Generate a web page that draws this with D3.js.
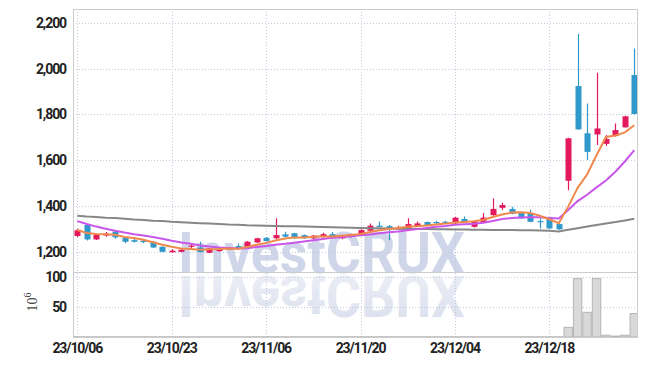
<!DOCTYPE html>
<html><head><meta charset="utf-8">
<script src="https://cdn.jsdelivr.net/npm/d3@7"></script>
<style>body{margin:0;background:#fff}svg{display:block}</style>
</head><body><svg id="c" width="647" height="366"></svg>
<script>
const dates = ["23/10/06","23/10/10","23/10/11","23/10/12","23/10/13","23/10/16","23/10/17","23/10/18","23/10/19","23/10/20",
"23/10/23","23/10/24","23/10/25","23/10/26","23/10/27","23/10/30","23/10/31","23/11/01","23/11/02","23/11/03",
"23/11/06","23/11/07","23/11/08","23/11/09","23/11/10","23/11/13","23/11/14","23/11/15","23/11/16","23/11/17",
"23/11/20","23/11/21","23/11/22","23/11/23","23/11/24","23/11/27","23/11/28","23/11/29","23/11/30","23/12/01",
"23/12/04","23/12/05","23/12/06","23/12/07","23/12/08","23/12/11","23/12/12","23/12/13","23/12/14","23/12/15",
"23/12/18","23/12/19","23/12/20","23/12/21","23/12/22","23/12/26","23/12/27","23/12/28","24/01/02","24/01/03"];
const open  = [1270,1318,1255,1272,1289,1262,1252,1249,1245,1223, 1199,1201,1224,1220,1197,1204,1212,1226,1223,1242,
               1262,1260,1277,1282,1274,1260,1267,1278,1260,1267, 1271,1293,1315,1313,1299,1303,1313,1331,1331,1332,
               1325,1344,1310,1330,1361,1393,1388,1373,1369,1335, 1344,1322,1511,1924,1718,1713,1672,1706,1744,1972];
const high  = [1302,1321,1280,1287,1291,1264,1265,1256,1247,1224, 1212,1214,1238,1245,1218,1218,1223,1237,1248,1262,
               1266,1347,1289,1284,1277,1274,1284,1287,1276,1280, 1299,1325,1333,1318,1315,1347,1333,1333,1336,1336,
               1353,1355,1336,1370,1434,1415,1398,1377,1385,1347, 1346,1325,1698,2151,1848,1982,1710,1761,1794,2088];
const low   = [1266,1250,1253,1267,1258,1238,1242,1238,1218,1199, 1197,1199,1216,1198,1195,1202,1210,1212,1220,1240,
               1246,1255,1264,1258,1258,1256,1262,1268,1256,1264, 1269,1290,1311,1252,1297,1300,1311,1316,1318,1322,
               1322,1328,1307,1328,1358,1383,1365,1345,1330,1303, 1301,1297,1470,1733,1601,1667,1662,1704,1742,1800];
const close = [1295,1255,1277,1280,1264,1245,1245,1244,1220,1201, 1206,1210,1228,1200,1216,1213,1220,1214,1245,1260,
               1248,1274,1267,1260,1260,1271,1278,1270,1274,1278, 1296,1315,1312,1303,1306,1322,1325,1318,1327,1325,
               1350,1330,1332,1350,1388,1405,1367,1347,1332,1330, 1303,1299,1696,1735,1637,1739,1693,1732,1792,1802];
const ma5   = [1296,1283,1279,1278,1275,1266,1261,1254,1243,1232, 1223,1216,1213,1210,1212,1213,1215,1214,1222,1232,
               1240,1250,1259,1264,1264,1267,1268,1268,1271,1274, 1279,1287,1295,1301,1305,1310,1313,1316,1320,1324,
               1329,1331,1334,1340,1353,1364,1372,1374,1370,1358, 1343,1326,1398,1480,1538,1622,1702,1708,1722,1753];
const ma10  = [1335,1322,1311,1302,1293,1285,1278,1272,1266,1258, 1249,1242,1236,1229,1224,1220,1218,1216,1217,1222,
               1226,1232,1236,1241,1246,1251,1257,1262,1266,1269, 1273,1277,1282,1286,1290,1295,1300,1305,1310,1314,
               1319,1321,1323,1328,1335,1344,1348,1351,1352,1352, 1349,1346,1383,1422,1450,1482,1512,1550,1595,1645];
const ma60  = [1358,1355,1353,1350,1348,1345,1342,1340,1337,1335, 1332,1330,1328,1326,1324,1322,1320,1319,1317,1316,
               1315,1314,1313,1312,1311,1310,1309,1308,1307,1306, 1305,1304,1304,1303,1302,1301,1300,1300,1299,1299,
               1298,1298,1297,1297,1296,1296,1296,1295,1295,1294, 1293,1290,1297,1304,1311,1318,1325,1331,1338,1345];
const volume = [0.4,0.4,0.4,0.4,0.4,0.4,0.4,0.4,0.4,0.4, 0.4,0.4,0.4,0.4,0.4,0.4,0.4,0.4,0.4,0.4,
                0.4,0.4,0.4,0.4,0.4,0.4,0.4,0.4,0.4,0.4, 0.4,0.4,0.4,0.4,0.4,0.4,0.4,0.4,0.4,0.4,
                0.4,0.4,0.4,0.4,0.4,0.4,0.4,0.4,0.4,0.4, 0.4,0.4,16,97,41,97,3,1.5,3,39];
const priceTicks = [1200,1400,1600,1800,2000,2200];
const volTicks = [50,100];
const dateTicks = ["23/10/06","23/10/23","23/11/06","23/11/20","23/12/04","23/12/18"];

const L=73, R=637.5, T=9, M=272, B=337;
const svg = d3.select("#c");
const x = d3.scaleBand().domain(dates).range([72.6, 639]);
const y = d3.scaleLinear().domain([1113, 2260]).range([M, T]);
const yv = d3.scaleLinear().domain([0, 108]).range([B, M]);
const cx = d => x(d) + x.bandwidth()/2;
const UP = "#e3185d", DOWN = "#3098ca";

const defs = svg.append("defs");
defs.append("clipPath").attr("id","clipAll").append("rect").attr("x",L).attr("y",T).attr("width",R-L).attr("height",B-T);
const g = defs.append("linearGradient").attr("id","refl").attr("x1",0).attr("y1",0).attr("x2",0).attr("y2",1);
g.append("stop").attr("offset","0%").attr("stop-color","#d9deed");
g.append("stop").attr("offset","100%").attr("stop-color","#eff1f7");
defs.append("text").attr("id","wmText").attr("x",178).attr("y",0).attr("textLength",287).attr("lengthAdjust","spacingAndGlyphs")
  .attr("font-family","Roboto").attr("font-weight",700).attr("font-size",58).text("InvestCRUX");

// watermark (text + reflection)
svg.append("use").attr("href","#wmText").attr("transform","translate(0,273)").attr("fill","#d0d6e9");
svg.append("use").attr("href","#wmText").attr("transform","translate(0,276) scale(1,-1)").attr("fill","url(#refl)");

// grid
const grid = svg.append("g").attr("stroke","#c3cade").attr("stroke-dasharray","1,2").attr("stroke-width",1);
grid.selectAll(".hy").data(priceTicks).join("line").attr("x1",L).attr("x2",R).attr("y1",d=>Math.round(y(d))+0.5).attr("y2",d=>Math.round(y(d))+0.5);
grid.selectAll(".hv").data(volTicks).join("line").attr("x1",L).attr("x2",R).attr("y1",d=>Math.round(yv(d))+0.5).attr("y2",d=>Math.round(yv(d))+0.5);
grid.selectAll(".vx").data(dateTicks).join("line").attr("y1",T).attr("y2",B).attr("x1",d=>Math.round(cx(d))+0.5).attr("x2",d=>Math.round(cx(d))+0.5);

const plot = svg.append("g").attr("clip-path","url(#clipAll)");
// volume
const idx = d3.range(dates.length);
plot.selectAll(".vb").data(idx).join("rect")
  .attr("x",i=>x(dates[i])+0.5).attr("width",x.bandwidth()-1)
  .attr("y",i=>yv(volume[i])).attr("height",i=>B-yv(volume[i]))
  .attr("fill","#d9d9d9").attr("stroke","#b5b5b5").attr("stroke-width",1);

// candles
const cg = plot.append("g");
cg.selectAll(".w").data(idx).join("line")
  .attr("x1",i=>Math.round(cx(dates[i]))+0.5).attr("x2",i=>Math.round(cx(dates[i]))+0.5)
  .attr("y1",i=>y(high[i])).attr("y2",i=>y(low[i]))
  .attr("stroke",i=>close[i]>=open[i]?UP:DOWN).attr("stroke-width",1.2);
cg.selectAll(".b").data(idx).join("rect")
  .attr("x",i=>Math.round(cx(dates[i]))-2.5).attr("width",6)
  .attr("y",i=>y(Math.max(open[i],close[i])))
  .attr("height",i=>Math.max(1.2, Math.abs(y(open[i])-y(close[i]))))
  .attr("fill",i=>close[i]>=open[i]?UP:DOWN);

// moving averages
const line = arr => d3.line().x((d,i)=>cx(dates[i])).y(d=>y(d))(arr);
plot.append("path").attr("d",line(ma60)).attr("fill","none").attr("stroke","#878787").attr("stroke-width",2);
plot.append("path").attr("d",line(ma10)).attr("fill","none").attr("stroke","#c956ea").attr("stroke-width",2);
plot.append("path").attr("d",line(ma5)).attr("fill","none").attr("stroke","#f0894c").attr("stroke-width",2);

// frame
const fr = svg.append("g").attr("stroke","#cccccc").attr("stroke-width",1).attr("fill","none");
fr.append("line").attr("x1",L+0.5).attr("x2",L+0.5).attr("y1",T).attr("y2",B);
fr.append("line").attr("x1",R).attr("x2",R).attr("y1",T).attr("y2",B);
fr.append("line").attr("x1",L).attr("x2",R).attr("y1",T+0.5).attr("y2",T+0.5);
fr.append("line").attr("x1",L).attr("x2",R).attr("y1",M+0.5).attr("y2",M+0.5);
fr.append("line").attr("x1",L).attr("x2",R).attr("y1",B+0.5).attr("y2",B+0.5);

// axes
const styleAxis = sel => { sel.select(".domain").remove();
  sel.selectAll("text").attr("font-family","Roboto").attr("font-weight",700).attr("font-size",14)
    .attr("fill","#222").attr("letter-spacing","-1.1px"); };
svg.append("g").attr("transform",`translate(${L},0)`)
  .call(d3.axisLeft(y).tickValues(priceTicks).tickSize(0).tickPadding(7).tickFormat(d3.format(","))).call(styleAxis);
svg.append("g").attr("transform",`translate(${L},0)`)
  .call(d3.axisLeft(yv).tickValues(volTicks).tickSize(0).tickPadding(7)).call(styleAxis);
svg.append("g").attr("transform",`translate(0,${B})`)
  .call(d3.axisBottom(x).tickValues(dateTicks).tickSize(0).tickPadding(6)).call(styleAxis);

// volume unit label
const ul = svg.append("text").attr("transform","translate(37,302) rotate(-90)").attr("text-anchor","middle")
  .attr("font-family","Liberation Serif").attr("font-size",14).attr("fill","#444");
ul.append("tspan").text("10");
ul.append("tspan").attr("font-size",10).attr("dy",-6).text("6");
</script></body></html>
